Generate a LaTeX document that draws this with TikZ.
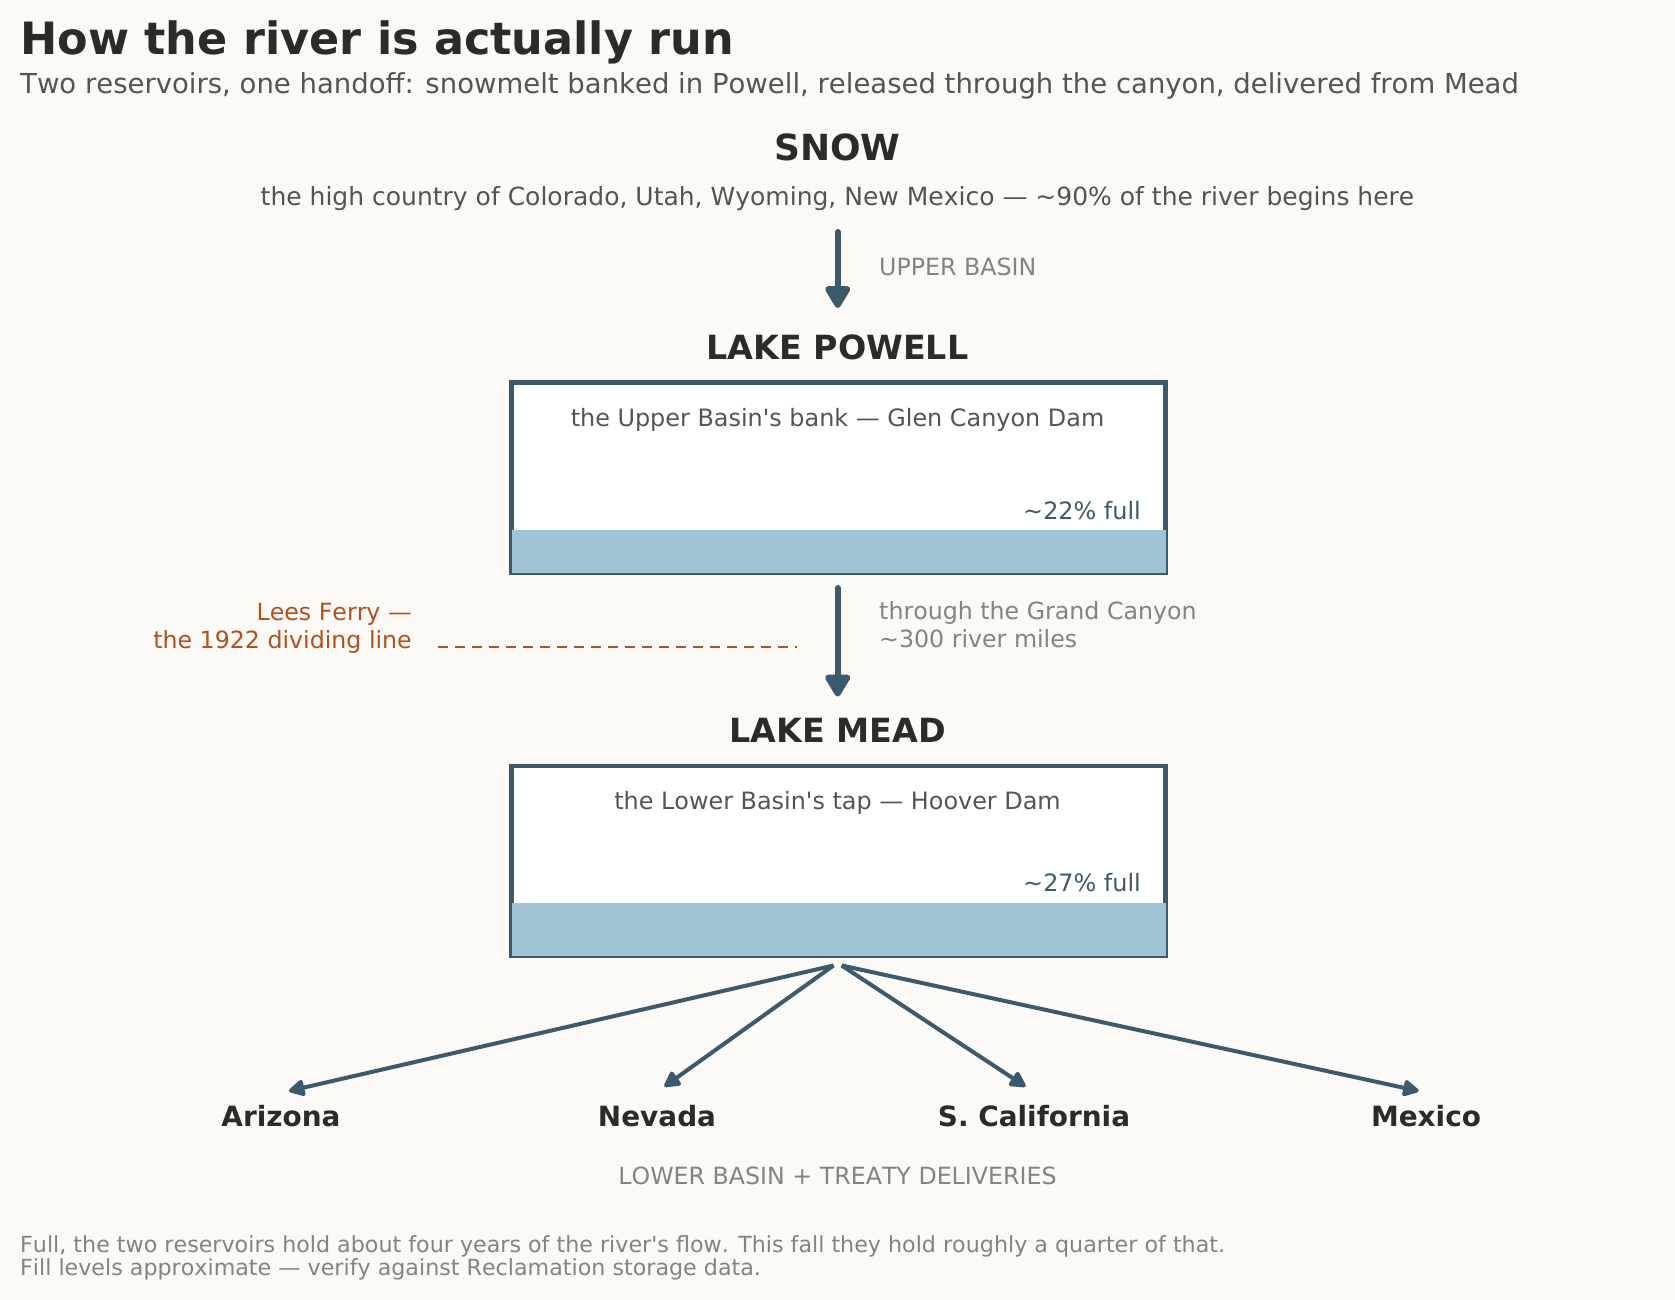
\documentclass[tikz,border=0pt]{standalone}
\usepackage{fontspec}
\setmainfont{DejaVu Sans}[Kerning=Off]
\usetikzlibrary{arrows.meta}
\definecolor{bg}{HTML}{FBFAF7}
\definecolor{ink}{HTML}{2B2B27}
\definecolor{subgray}{HTML}{55554F}
\definecolor{muted}{HTML}{85847A}
\definecolor{slate}{HTML}{3D5A6C}
\definecolor{water}{HTML}{A0C3D6}
\definecolor{ferry}{HTML}{B5501B}
\tikzset{
  ttl/.style={font=\bfseries\fontsize{44.5}{54}\selectfont, text=ink, anchor=west, inner sep=0pt},
  subt/.style={font=\fontsize{27.5}{32}\selectfont, text=subgray, anchor=west, inner sep=0pt},
  head/.style={font=\bfseries\fontsize{33.3}{40}\selectfont, text=ink, inner sep=0pt},
  bighead/.style={font=\bfseries\fontsize{36}{42}\selectfont, text=ink, inner sep=0pt},
  desc/.style={font=\fontsize{25}{30}\selectfont, text=subgray, inner sep=0pt},
  boxtxt/.style={font=\fontsize{23.9}{28}\selectfont, text=subgray, inner sep=0pt},
  pct/.style={font=\fontsize{23.9}{28}\selectfont, text=slate, inner sep=0pt, anchor=east},
  mutedtxt/.style={font=\fontsize{23.7}{28}\selectfont, text=muted, inner sep=0pt},
  ferrytxt/.style={font=\fontsize{23.7}{28}\selectfont, text=ferry, inner sep=0pt},
  state/.style={font=\bfseries\fontsize{27.9}{32}\selectfont, text=ink, inner sep=0pt},
  foot/.style={font=\fontsize{22.2}{23.5}\selectfont, text=muted, inner sep=0pt, anchor=west, align=left},
  resbox/.style={draw=slate, fill=white, line width=4.3pt, minimum width=654pt, minimum height=190.2pt, inner sep=0pt},
  bigarrow/.style={draw=slate, line width=6pt, line cap=round, -{Triangle[width=28pt,length=25pt,round]}},
  fanarrow/.style={draw=slate, line width=4pt, -{Triangle[width=18pt,length=18pt,round]}},
  ferryline/.style={draw=ferry, line width=2.5pt, dash pattern=on 10pt off 7pt},
}
\begin{document}
\begin{tikzpicture}[x=1pt,y=-1pt]
\useasboundingbox[fill=bg] (0,0) rectangle (1675,1300);

\node[ttl] (title) at (20,42) {How the river is actually run};
\node[subt] (subtitle) at (20,86) {Two reservoirs, one handoff: snowmelt banked in Powell, released through the canyon, delivered from Mead};

\node[bighead] (snow) at (837.5,147) {SNOW};
\node[desc] (snowdesc) at (837.5,199) {the high country of Colorado, Utah, Wyoming, New Mexico — \textasciitilde 90\% of the river begins here};

\coordinate (a1s) at (837.7,232);
\coordinate (a1e) at (837.7,308);
\draw[bigarrow] (a1s) -- (a1e);
\node[mutedtxt, anchor=west] (upper) at (879,267) {UPPER BASIN};

\node[head] (powell) at (837.5,347) {LAKE POWELL};
\node[resbox] (powellbox) at (838.5,477.6) {};
\fill[water] (511.5,529.8) rectangle (1165.5,572.7);
\node[boxtxt] (powelltxt) at (837.5,419.7) {the Upper Basin\textquotesingle s bank — Glen Canyon Dam};
\node[pct] (powellpct) at (1141,510.6) {\textasciitilde 22\% full};

\coordinate (a2s) at (837.7,588);
\coordinate (a2e) at (837.7,696.5);
\draw[bigarrow] (a2s) -- (a2e);
\node[ferrytxt, align=right, anchor=east] (lees) at (412,628) {Lees Ferry —\\the 1922 dividing line};
\coordinate (fl1) at (438,647);
\coordinate (fl2) at (797,647);
\draw[ferryline] (fl1) -- (fl2);
\node[mutedtxt, align=left, anchor=west] (canyon) at (879,625) {through the Grand Canyon\\\textasciitilde 300 river miles};

\node[head] (mead) at (837.5,730.7) {LAKE MEAD};
\node[resbox] (meadbox) at (838.5,861.1) {};
\fill[water] (511.5,902.6) rectangle (1165.5,956.2);
\node[boxtxt] (meadtxt) at (837.5,803) {the Lower Basin\textquotesingle s tap — Hoover Dam};
\node[pct] (meadpct) at (1141,882.3) {\textasciitilde 27\% full};

\coordinate (fanL) at (833.5,965.5);
\coordinate (fanR) at (841.7,965.5);
\coordinate (tAZ) at (289,1091);
\coordinate (tNV) at (664.4,1086.5);
\coordinate (tCA) at (1025.5,1086.5);
\coordinate (tMX) at (1418.6,1091);
\draw[fanarrow] (fanL) -- (tAZ);
\draw[fanarrow] (fanL) -- (tNV);
\draw[fanarrow] (fanR) -- (tCA);
\draw[fanarrow] (fanR) -- (tMX);

\node[state] (az) at (281,1116.3) {Arizona};
\node[state] (nv) at (657,1116.3) {Nevada};
\node[state] (ca) at (1034,1116.3) {S. California};
\node[state] (mx) at (1426,1116.3) {Mexico};
\node[mutedtxt] (lower) at (837.5,1176) {LOWER BASIN + TREATY DELIVERIES};

\node[foot] (note) at (20,1258) {Full, the two reservoirs hold about four years of the river\textquotesingle s flow. This fall they hold roughly a quarter of that.\\Fill levels approximate — verify against Reclamation storage data.};
\end{tikzpicture}
\end{document}
